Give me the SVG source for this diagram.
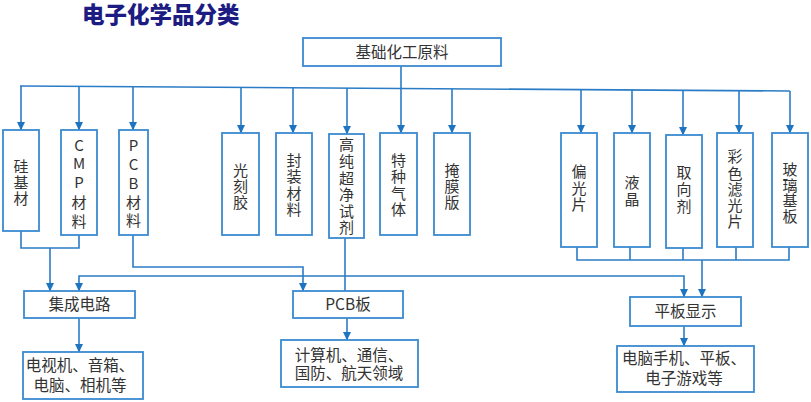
<svg xmlns="http://www.w3.org/2000/svg" width="811" height="402" viewBox="0 0 811 402">
<defs>
<marker id="ah" markerUnits="userSpaceOnUse" markerWidth="9" markerHeight="9" refX="8" refY="4.5" orient="auto" viewBox="0 0 9 9">
<path d="M0,0.5 L8.5,4.5 L0,8.5 z" fill="#1f74c0"/>
</marker>
</defs>
<style>
.box{fill:#fff;stroke:#3a8ad0;stroke-width:1.8}
.ln{fill:none;stroke:#2b7cc6;stroke-width:1.6}
.arr{fill:none;stroke:#2b7cc6;stroke-width:1.6;marker-end:url(#ah)}
.t{font-family:"Noto Sans CJK SC","Noto Sans",sans-serif;font-size:15.5px;fill:#333;text-anchor:middle}
.v{font-family:"Noto Sans CJK SC","Noto Sans",sans-serif;font-size:15px;fill:#333;text-anchor:middle}
.title{font-family:"Noto Sans CJK SC",sans-serif;font-size:22.5px;font-weight:900;fill:#1c1c82}
</style>
<rect width="811" height="402" fill="#fff"/>
<text class="title" x="82" y="23">电子化学品分类</text>

<g id="connectors">
<path class="ln" d="M20,86 L790,91"/>
<path class="arr" d="M401,66 V133"/>
<path class="arr" d="M21,86 V130"/>
<path class="arr" d="M79,86.4 V130"/>
<path class="arr" d="M133,86.7 V130"/>
<path class="arr" d="M241,87.4 V133"/>
<path class="arr" d="M293,87.8 V133"/>
<path class="arr" d="M347,88.1 V134"/>
<path class="arr" d="M452,88.8 V133"/>
<path class="arr" d="M581,89.6 V133"/>
<path class="arr" d="M632,90 V133"/>
<path class="arr" d="M683,90.3 V135"/>
<path class="arr" d="M739,90.7 V133"/>
<path class="arr" d="M790,91 V133"/>
<path class="ln" d="M21,231 V248 H79 V235"/>
<path class="arr" d="M50,248 V291"/>
<path class="arr" d="M133,235 V267 H303 V291"/>
<path class="ln" d="M345,238 V291"/>
<path class="arr" d="M345,276 H79 V291"/>
<path class="arr" d="M345,276 H684 V297"/>
<path class="ln" d="M577,247 V260 H789 V247 M630,247 V260 M683,248 V260 M736,247 V260"/>
<path class="arr" d="M702,260 V297"/>
<path class="arr" d="M79,318 V352"/>
<path class="arr" d="M347,318 V340"/>
<path class="arr" d="M684,326 V346"/>
</g>

<g id="n-base"><rect class="box" x="303" y="38" width="198" height="28"/><text class="t" x="402" y="57.5">基础化工原料</text></g>

<g id="n-gui"><rect class="box" x="3" y="130" width="36" height="101"/>
<text class="v" x="21" y="172.3"><tspan x="21">硅</tspan><tspan x="21" dy="16">基</tspan><tspan x="21" dy="16">材</tspan></text></g>

<g id="n-cmp"><rect class="box" x="61" y="130" width="36" height="105"/>
<text class="v" x="79" y="150.5"><tspan x="79">C</tspan><tspan x="79" dy="18.5">M</tspan><tspan x="79" dy="19">P</tspan><tspan x="79" dy="19.5">材</tspan><tspan x="79" dy="19">料</tspan></text></g>

<g id="n-pcbm"><rect class="box" x="119" y="130" width="29" height="105"/>
<text class="v" x="133.5" y="150.5"><tspan x="133.5">P</tspan><tspan x="133.5" dy="19">C</tspan><tspan x="133.5" dy="19">B</tspan><tspan x="133.5" dy="19">材</tspan><tspan x="133.5" dy="18.5">料</tspan></text></g>

<g id="n-gkj"><rect class="box" x="222" y="133" width="37" height="102"/>
<text class="v" x="240.5" y="176.3"><tspan x="240.5">光</tspan><tspan x="240.5" dy="16">刻</tspan><tspan x="240.5" dy="16">胶</tspan></text></g>

<g id="n-fz"><rect class="box" x="276" y="133" width="36" height="102"/>
<text class="v" x="294" y="165.5"><tspan x="294">封</tspan><tspan x="294" dy="16.5">装</tspan><tspan x="294" dy="16.5">材</tspan><tspan x="294" dy="16.5">料</tspan></text></g>

<g id="n-gc"><rect class="box" x="329" y="134" width="35" height="104"/>
<text class="v" x="346.5" y="150.3"><tspan x="346.5">高</tspan><tspan x="346.5" dy="16.6">纯</tspan><tspan x="346.5" dy="16.6">超</tspan><tspan x="346.5" dy="16.6">净</tspan><tspan x="346.5" dy="16.6">试</tspan><tspan x="346.5" dy="16.6">剂</tspan></text></g>

<g id="n-tz"><rect class="box" x="380" y="133" width="37" height="102"/>
<text class="v" x="398.5" y="165.5"><tspan x="398.5">特</tspan><tspan x="398.5" dy="16.5">种</tspan><tspan x="398.5" dy="16.5">气</tspan><tspan x="398.5" dy="16.5">体</tspan></text></g>

<g id="n-ym"><rect class="box" x="434" y="133" width="36" height="102"/>
<text class="v" x="452" y="176.3"><tspan x="452">掩</tspan><tspan x="452" dy="16">膜</tspan><tspan x="452" dy="16">版</tspan></text></g>

<g id="n-pg"><rect class="box" x="561" y="133" width="36" height="114"/>
<text class="v" x="579" y="177.3"><tspan x="579">偏</tspan><tspan x="579" dy="16.5">光</tspan><tspan x="579" dy="16.5">片</tspan></text></g>

<g id="n-yj"><rect class="box" x="614" y="133" width="36" height="114"/>
<text class="v" x="632" y="188.3"><tspan x="632">液</tspan><tspan x="632" dy="17">晶</tspan></text></g>

<g id="n-qx"><rect class="box" x="666" y="135" width="36" height="113"/>
<text class="v" x="684" y="178.3"><tspan x="684">取</tspan><tspan x="684" dy="17">向</tspan><tspan x="684" dy="17">剂</tspan></text></g>

<g id="n-cs"><rect class="box" x="717" y="133" width="36" height="114"/>
<text class="v" x="735" y="162.3"><tspan x="735">彩</tspan><tspan x="735" dy="16.2">色</tspan><tspan x="735" dy="16.2">滤</tspan><tspan x="735" dy="16.2">光</tspan><tspan x="735" dy="16.2">片</tspan></text></g>

<g id="n-bl"><rect class="box" x="772" y="133" width="36" height="114"/>
<text class="v" x="790" y="175.3"><tspan x="790">玻</tspan><tspan x="790" dy="15.5">璃</tspan><tspan x="790" dy="15.5">基</tspan><tspan x="790" dy="15.5">板</tspan></text></g>

<g id="n-jc"><rect class="box" x="24" y="291" width="111" height="27"/><text class="t" x="79.5" y="310">集成电路</text></g>
<g id="n-pcb"><rect class="box" x="293" y="291" width="110" height="27"/><text class="t" x="348" y="310">PCB板</text></g>
<g id="n-pb"><rect class="box" x="630" y="297" width="111" height="29"/><text class="t" x="685.5" y="317">平板显示</text></g>

<g id="n-tv"><rect class="box" x="23" y="352" width="120" height="47"/>
<text class="t" font-size="15" x="80" y="370.5">电视机、音箱、</text><text class="t" font-size="15" x="80" y="390.5">电脑、相机等</text></g>
<g id="n-jsj"><rect class="box" x="281" y="340" width="137" height="47"/>
<text class="t" font-size="15" x="349" y="360.5">计算机、通信、</text><text class="t" font-size="15" x="349" y="378.5">国防、航天领域</text></g>
<g id="n-dn"><rect class="box" x="617" y="346" width="137" height="46"/>
<text class="t" font-size="15" x="684" y="363.5">电脑手机、平板、</text><text class="t" font-size="15" x="684" y="383.5">电子游戏等</text></g>
</svg>
